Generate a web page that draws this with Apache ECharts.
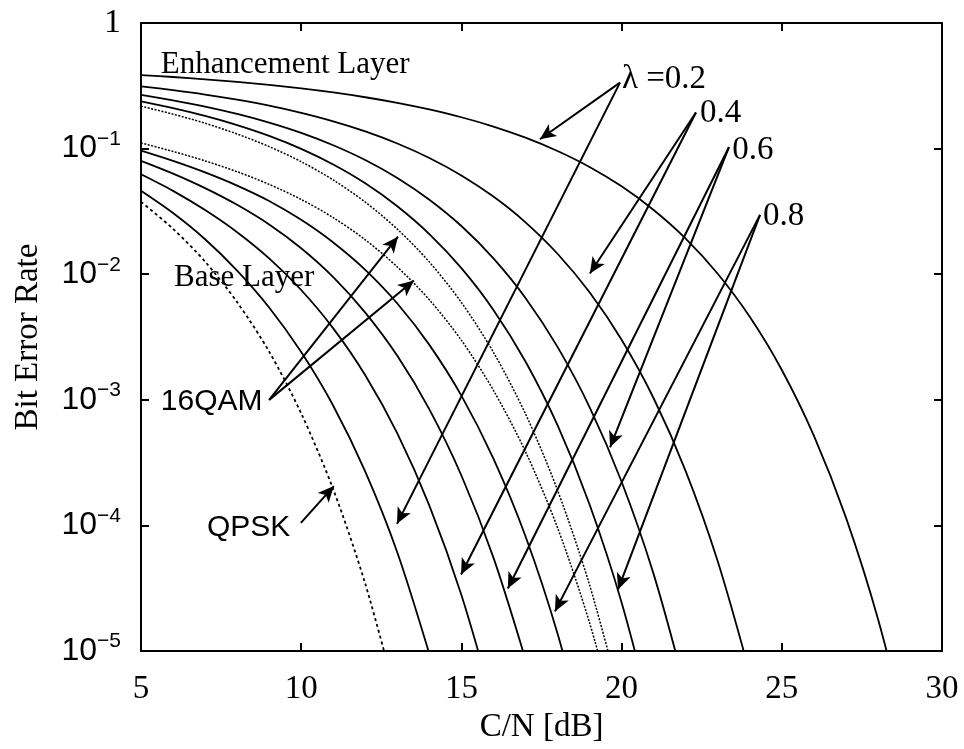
<!DOCTYPE html>
<html>
<head>
<meta charset="utf-8">
<script src="https://cdn.jsdelivr.net/npm/echarts@6/dist/echarts.min.js"></script>
<style>
  html, body { margin: 0; padding: 0; background: #fff; }
  #chart { width: 964px; height: 749px; }
</style>
</head>
<body>
<div id="chart"></div>
<script>
// C/N grid in dB, every series below starts at 5 dB
const cnDb = [5, 6, 7, 8, 9, 10, 11, 12, 13, 14, 15, 16, 17, 18, 19, 20, 21, 22, 23, 24, 25, 26, 27, 28, 29];

// BER
const qpsk = [0.0377, 0.0230, 0.0126, 0.0060, 0.00242, 0.00078, 0.000194, 3.43e-5, 4.0e-6];
const base02 = [0.0462, 0.0307, 0.0190, 0.0107, 0.00544, 0.0024, 0.000897, 0.000268, 6.1e-5, 9.5e-6];
const base04 = [0.0625, 0.0461, 0.0324, 0.0216, 0.01337, 0.00749, 0.00371, 0.00157, 0.00054, 0.000144, 2.8e-5, 3.7e-6];
const base06 = [0.0800, 0.0633, 0.0485, 0.0357, 0.0249, 0.0161, 0.00948, 0.00495, 0.00224, 0.00084, 0.00025, 5.55e-5, 8.6e-6];
const base08 = [0.0964, 0.0799, 0.0647, 0.0508, 0.0383, 0.0271, 0.0179, 0.01083, 0.00585, 0.00274, 0.00108, 0.00034, 8.2e-5, 1.38e-5, 1.5e-6];
const qam16a = [0.1109, 0.0950, 0.0799, 0.0655, 0.0519, 0.0394, 0.0282, 0.0188, 0.01143, 0.00626, 0.00298, 0.00119, 0.000387, 9.6e-5, 1.68e-5, 1.95e-6];
const qam16b = [0.2176, 0.1881, 0.1592, 0.1308, 0.1038, 0.0787, 0.0563, 0.0375, 0.02286, 0.01251, 0.00596, 0.00239, 0.000773, 0.000191, 3.36e-5, 3.9e-6];
const enh08 = [0.238, 0.2101, 0.1821, 0.154, 0.1263, 0.0996, 0.0748, 0.053, 0.0348, 0.0209, 0.01119, 0.0052, 0.00202, 0.000628, 0.000147, 2.44e-5, 2.6e-6];
const enh06 = [0.2679, 0.2424, 0.2161, 0.1889, 0.1612, 0.1335, 0.1064, 0.0811, 0.0584, 0.0392, 0.0242, 0.01338, 0.00648, 0.00264, 0.000876, 0.000223, 4.1e-5, 4.9e-6];
const enh04 = [0.3134, 0.292, 0.2693, 0.2451, 0.2195, 0.1925, 0.1649, 0.1371, 0.1099, 0.0843, 0.0612, 0.0415, 0.0259, 0.01456, 0.00718, 0.00301, 0.00103, 0.000271, 5.2e-5, 6.7e-6];
const enh02 = [0.3853, 0.3715, 0.3564, 0.3398, 0.3216, 0.3016, 0.2799, 0.2564, 0.2314, 0.205, 0.1777, 0.1498, 0.1222, 0.0958, 0.0715, 0.0501, 0.0325, 0.01923, 0.01009, 0.00458, 0.00173, 0.000519, 0.000116, 1.81e-5, 1.8e-6];

const xTicks = [5, 10, 15, 20, 25, 30];

const SERIF = '"Liberation Serif", "Times New Roman", serif';
const SANS = '"Liberation Sans", Arial, sans-serif';

const chart = echarts.init(document.getElementById('chart'), null, { renderer: 'canvas' });

function pairs(ber) {
  return ber.map((v, i) => [cnDb[i], v]);
}

function curve(name, ber, kind) {
  let lineStyle = { color: '#000', width: 1.8, type: 'solid' };
  if (kind === 'qpsk') lineStyle = { color: '#000', width: 1.8, type: [3, 3] };
  if (kind === 'qam') lineStyle = { color: '#000', width: 1.5, type: [2, 1.5] };
  return {
    name: name,
    type: 'line',
    data: pairs(ber),
    showSymbol: false,
    smooth: 0.3,
    clip: true,
    lineStyle: lineStyle,
    emphasis: { disabled: true },
    silent: true
  };
}

function arrow(from, to) {
  return [{ coord: from, symbol: 'none' }, { coord: to, symbol: 'arrow', symbolSize: [11, 16] }];
}

function note(text, coord, font, size) {
  return {
    coord: coord,
    value: 0,
    label: {
      show: true,
      formatter: text,
      position: [0, 0],
      align: 'left',
      verticalAlign: 'middle',
      fontFamily: font,
      fontSize: size,
      color: '#000'
    }
  };
}

const option = {
  animation: false,
  backgroundColor: '#fff',
  grid: { left: 141, top: 23, right: 22, bottom: 94, containLabel: false },
  xAxis: [{
    type: 'value',
    min: 5, max: 30, interval: 5,
    name: 'C/N [dB]',
    nameLocation: 'middle',
    nameGap: 48,
    nameTextStyle: { fontFamily: SERIF, fontSize: 33, color: '#000' },
    axisLine: { show: true, onZero: false, lineStyle: { color: '#000', width: 2 } },
    axisTick: { show: true, inside: true, length: 8, lineStyle: { color: '#000', width: 2 } },
    axisLabel: {
      show: true, margin: 22, fontFamily: SERIF, fontSize: 33, color: '#000',
      showMinLabel: true, showMaxLabel: true,
      formatter: v => (xTicks.indexOf(v) >= 0 ? String(v) : '')
    },
    splitLine: { show: false }
  }, {
    type: 'value',
    position: 'top',
    min: 5, max: 30, interval: 5,
    axisLine: { show: true, onZero: false, lineStyle: { color: '#000', width: 2 } },
    axisTick: { show: true, inside: true, length: 8, lineStyle: { color: '#000', width: 2 } },
    axisLabel: { show: false },
    splitLine: { show: false }
  }],
  yAxis: [{
    type: 'log',
    logBase: 10,
    min: 1e-5, max: 1, interval: 1,
    name: 'Bit Error Rate',
    nameLocation: 'middle',
    nameGap: 96,
    nameTextStyle: { fontFamily: SERIF, fontSize: 33, color: '#000' },
    axisLine: { show: true, onZero: false, lineStyle: { color: '#000', width: 2 } },
    axisTick: { show: true, inside: true, length: 8, lineStyle: { color: '#000', width: 2 } },
    axisLabel: {
      show: true, margin: 20, color: '#000',
      showMinLabel: true, showMaxLabel: true,
      formatter: v => {
        const e = Math.round(Math.log10(v));
        if (e === 0) return '{one|1}';
        return '{n|10}{e|\u2212' + (-e) + '}';
      },
      rich: {
        one: { fontFamily: SERIF, fontSize: 34, color: '#000', lineHeight: 40 },
        n: { fontFamily: SANS, fontSize: 32, color: '#000', lineHeight: 40 },
        e: { fontFamily: SANS, fontSize: 21, color: '#000', lineHeight: 24, verticalAlign: 'top' }
      }
    },
    splitLine: { show: false },
    minorTick: { show: false }
  }, {
    type: 'log',
    logBase: 10,
    position: 'right',
    min: 1e-5, max: 1, interval: 1,
    axisLine: { show: true, onZero: false, lineStyle: { color: '#000', width: 2 } },
    axisTick: { show: true, inside: true, length: 8, lineStyle: { color: '#000', width: 2 } },
    axisLabel: { show: false },
    splitLine: { show: false }
  }],
  series: [
    curve('QPSK', qpsk, 'qpsk'),
    curve('Base λ=0.2', base02),
    curve('Base λ=0.4', base04),
    curve('Base λ=0.6', base06),
    curve('Base λ=0.8', base08),
    curve('16QAM a', qam16a, 'qam'),
    curve('16QAM b', qam16b, 'qam'),
    curve('Enh λ=0.8', enh08),
    curve('Enh λ=0.6', enh06),
    curve('Enh λ=0.4', enh04),
    curve('Enh λ=0.2', enh02),
    {
      name: 'notes',
      type: 'line',
      data: [],
      silent: true,
      markLine: {
        silent: true,
        animation: false,
        symbol: ['none', 'arrow'],
        symbolSize: 16,
        label: { show: false },
        emphasis: { disabled: true },
        itemStyle: { color: '#000' },
        lineStyle: { color: '#000', width: 2, type: 'solid' },
        data: [
          arrow([19.95, 0.335], [17.45, 0.1187]),
          arrow([19.95, 0.335], [12.99, 1.03e-4]),
          arrow([22.32, 0.194], [19.01, 0.01015]),
          arrow([22.32, 0.194], [14.99, 4.07e-5]),
          arrow([23.35, 0.1026], [19.64, 4.19e-4]),
          arrow([23.35, 0.1026], [16.45, 3.15e-5]),
          arrow([24.32, 0.0297], [17.92, 2.07e-5]),
          arrow([24.32, 0.0297], [19.89, 3.1e-5]),
          arrow([9.0, 1.0e-3], [13.02, 0.0199]),
          arrow([9.0, 1.0e-3], [13.52, 0.00893]),
          arrow([9.99, 1.05e-4], [11.02, 2.06e-4])
        ]
      },
      markPoint: {
        silent: true,
        animation: false,
        symbol: 'circle',
        symbolSize: 0,
        itemStyle: { color: 'rgba(0,0,0,0)' },
        data: [
          note('Enhancement Layer', [5.62, 0.465], SERIF, 31),
          note('Base Layer', [6.03, 0.0093], SERIF, 31),
          note('16QAM', [5.62, 9.7e-4], SANS, 30),
          note('QPSK', [7.06, 9.6e-5], SANS, 30),
          note('\u03bb =0.2', [20.01, 0.354], SERIF, 33),
          note('0.4', [22.45, 0.19], SERIF, 33),
          note('0.6', [23.45, 0.097], SERIF, 33),
          note('0.8', [24.41, 0.029], SERIF, 33)
        ]
      }
    }
  ]
};

chart.setOption(option);
</script>
</body>
</html>
